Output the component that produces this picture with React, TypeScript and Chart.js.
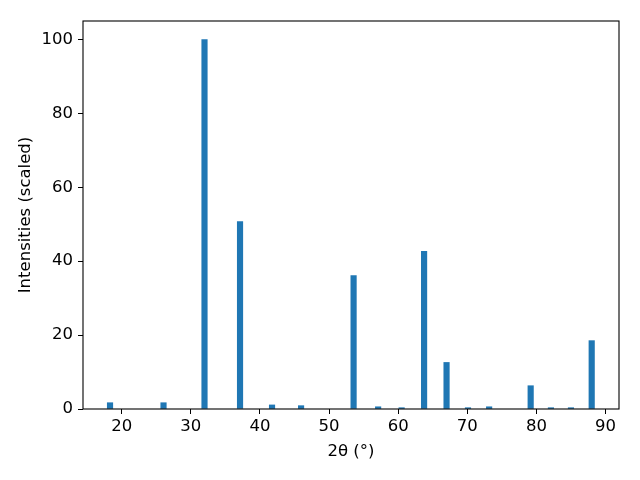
import React, { useEffect, useRef } from "react";
import { Chart, registerables } from "chart.js";

Chart.register(...registerables);

// Peak positions (2θ, degrees) and scaled intensities
const peakPositions = [18.31, 26.05, 31.98, 37.12, 41.75, 45.95, 53.55, 57.1, 60.5, 63.75, 67.0, 70.1, 73.16, 79.17, 82.1, 85.0, 88.0];
const intensities = [1.7, 1.7, 100, 50.7, 1.1, 0.9, 36.1, 0.6, 0.35, 42.7, 12.6, 0.35, 0.6, 6.3, 0.35, 0.35, 18.5];

const xTicks = [20, 30, 40, 50, 60, 70, 80, 90];
const yTicks = [0, 20, 40, 60, 80, 100];
const xLimits = [14.4, 91.95];
const yLimits = [0, 105];

const xTitle = "2θ (°)";
const yTitle = "Intensities (scaled)";

const FONT = "'DejaVu Sans', sans-serif";
const FS = 16.5;

const frame = {
  id: "frame",
  afterDraw(chart: any) {
    const { ctx, chartArea } = chart;
    ctx.save();
    ctx.strokeStyle = "#000";
    ctx.lineWidth = 1.1;
    ctx.strokeRect(chartArea.left, chartArea.top, chartArea.right - chartArea.left, chartArea.bottom - chartArea.top);
    ctx.restore();
  },
};

export default function App() {
  const ref = useRef<HTMLCanvasElement | null>(null);
  useEffect(() => {
    if (!ref.current) return;
    const chart = new Chart(ref.current, {
      type: "bar",
      data: {
        datasets: [
          {
            data: peakPositions.map((x, i) => ({ x, y: intensities[i] })),
            backgroundColor: "#1f77b4",
            borderWidth: 0,
            barThickness: 5.5,
          },
        ],
      },
      options: {
        animation: false,
        responsive: false,
        devicePixelRatio: 1,
        layout: { padding: { top: 21, right: 21, left: 0, bottom: 0 } },
        plugins: { legend: { display: false }, tooltip: { enabled: false } },
        scales: {
          x: {
            type: "linear",
            offset: false,
            min: xLimits[0],
            max: xLimits[1],
            afterBuildTicks: (s: any) => {
              s.ticks = xTicks.map((v) => ({ value: v }));
            },
            afterFit: (s: any) => {
              s.height = 71;
            },
            grid: { display: true, offset: false, drawOnChartArea: false, drawTicks: true, tickLength: 5, color: "#000", lineWidth: 1 },
            border: { display: false },
            ticks: { color: "#000", padding: 3, font: { family: FONT, size: FS }, maxRotation: 0 },
            title: { display: true, text: xTitle, color: "#000", font: { family: FONT, size: FS }, padding: { top: 0, bottom: 18.5 } },
          },
          y: {
            type: "linear",
            min: yLimits[0],
            max: yLimits[1],
            afterBuildTicks: (s: any) => {
              s.ticks = yTicks.map((v) => ({ value: v }));
            },
            afterFit: (s: any) => {
              s.width = 83;
            },
            grid: { display: true, drawOnChartArea: false, drawTicks: true, tickLength: 5, color: "#000", lineWidth: 1 },
            border: { display: false },
            ticks: { color: "#000", padding: 5, font: { family: FONT, size: FS } },
            title: { display: true, text: yTitle, color: "#000", font: { family: FONT, size: FS }, padding: { top: 16, bottom: 0 } },
          },
        },
      },
      plugins: [frame],
    });
    return () => chart.destroy();
  }, []);
  return (
    <div style={{ position: "absolute", left: 0, top: 0, width: 640, height: 480, background: "#fff" }}>
      <canvas ref={ref} width={640} height={480} />
    </div>
  );
}
